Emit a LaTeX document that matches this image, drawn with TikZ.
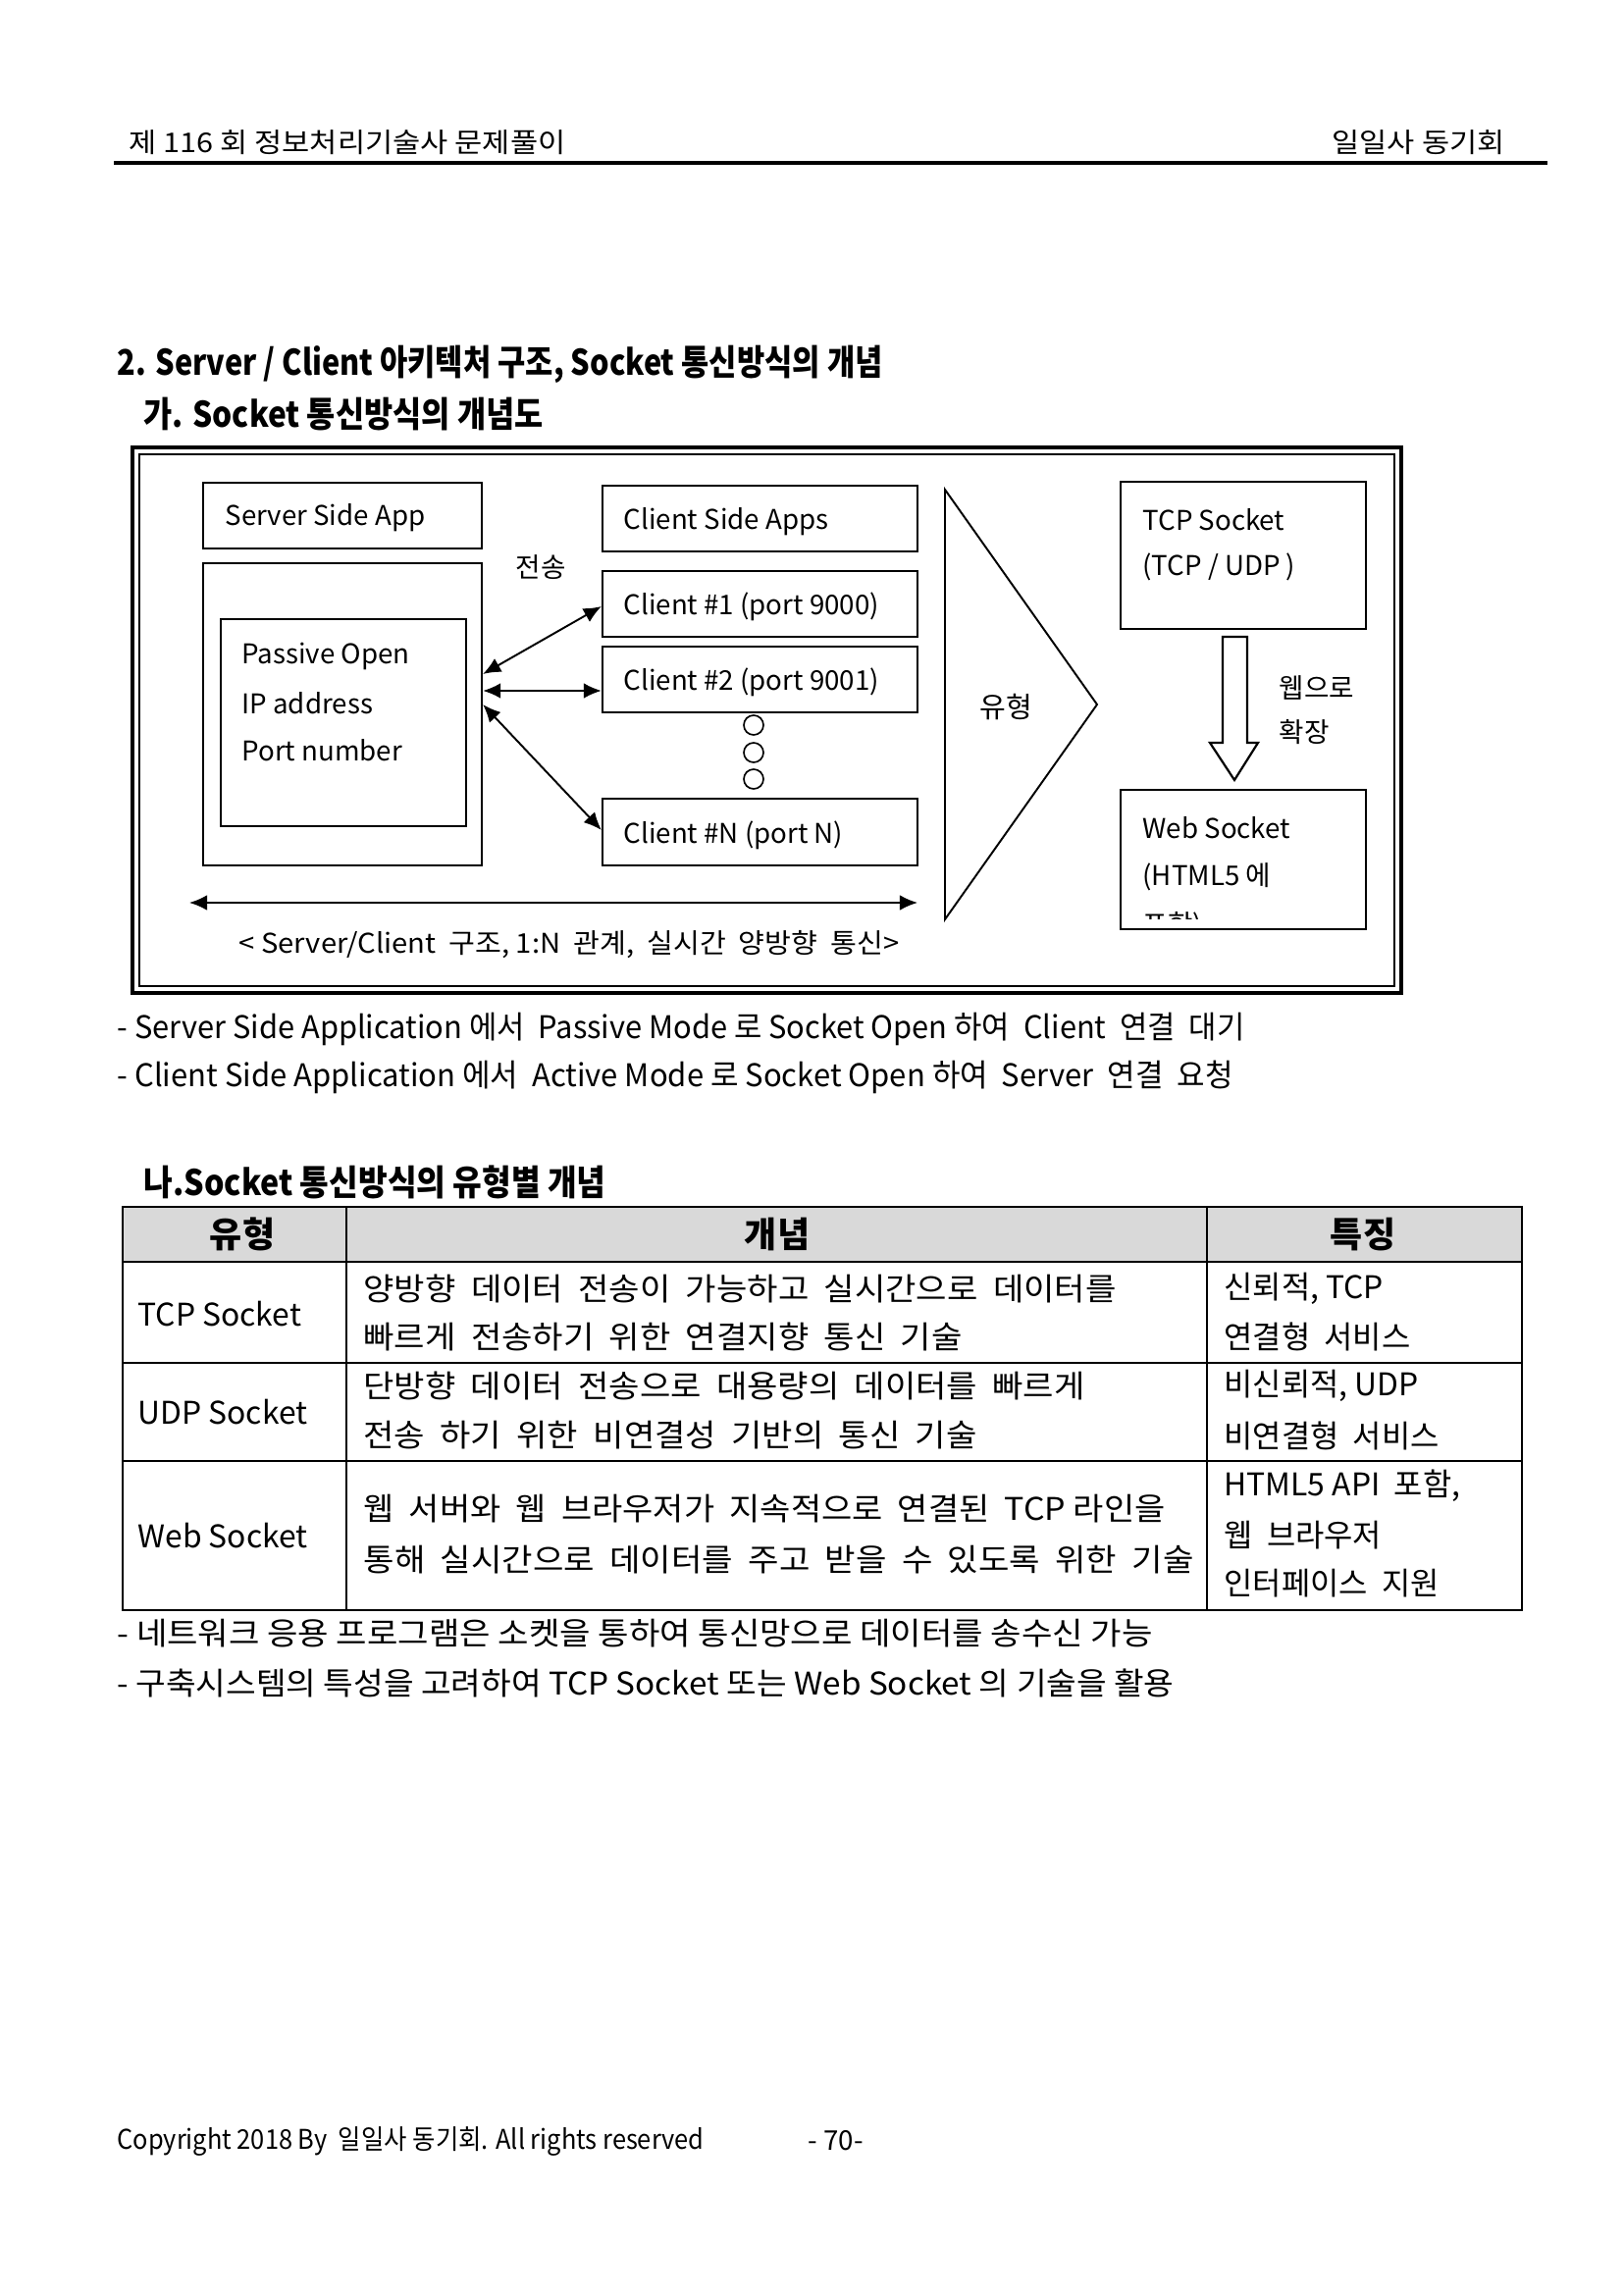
\documentclass[tikz,border=0pt]{standalone}
\usepackage{fontspec}
\setmainfont{Noto Sans CJK KR}
\usepackage{graphicx}
\usetikzlibrary{arrows.meta, positioning, calc}
\newlength\px
\setlength\px{0.127mm}
\newcommand\fitw[2]{\resizebox{#1\px}{\height}{#2}}
\tikzset{
	txt/.style={anchor=west, inner sep=0pt, font=\fontsize{11.5}{13}\selectfont},
	head/.style={txt, font=\fontsize{13}{15}\selectfont\bfseries},
	dtxt/.style={txt, font=\fontsize{10}{12}\selectfont},
	box/.style={draw, line width=0.8pt, inner sep=0pt},
	dot/.style={circle, draw, line width=0.6pt, minimum size=20\px, inner sep=0pt},
	biarrow/.style={{Latex[length=2.3mm, width=2mm]}-{Latex[length=2.3mm, width=2mm]}, line width=0.7pt}
}
\begin{document}
\begin{tikzpicture}[x=0.127mm, y=-0.127mm]
	\fill[white] (0,0) rectangle (1654,2339);
	\useasboundingbox (0,0) rectangle (1654,2339);
	% page header
	\node[txt, font=\fontsize{10}{12}\selectfont] (hl) at (131,145) {\fitw{445}{제 116 회 정보처리기술사 문제풀이}};
	\node[txt, font=\fontsize{10}{12}\selectfont] (hr) at (1357,145) {\fitw{176}{일일사 동기회}};
	\draw[line width=1.2pt] (116,166) -- (1577,166);
	\node[head] (h2) at (119,371) {\fitw{780}{2. Server / Client 아키텍처 구조, Socket 통신방식의 개념}};
	\node[head] (h3) at (146,422) {\fitw{407}{가. Socket 통신방식의 개념도}};
	% diagram frame
	\draw[line width=1.4pt] (135,456) rectangle (1428,1012);
	\draw[line width=0.8pt] (142,463) rectangle (1421,1005);
	% server side
	\node[box, minimum width=284\px, minimum height=67\px] (ssa) at (349,525.5) {};
	\node[dtxt] at (229,528) {Server Side App};
	\node[box, minimum width=284\px, minimum height=308\px] (srv) at (349,728) {};
	\node[box, minimum width=250\px, minimum height=211\px] (inr) at (350,736.5) {};
	\node[dtxt] (po) at (246,669) {Passive Open};
	\node[dtxt] (ip) at (246,717) {IP address};
	\node[dtxt] (pn) at (246,765) {Port number};
	% client side
	\node[box, minimum width=321\px, minimum height=67\px] (csa) at (774.5,528.5) {};
	\node[dtxt] at (635,532) {Client Side Apps};
	\node[box, minimum width=321\px, minimum height=67\px] (c1) at (774.5,615.5) {};
	\node[dtxt] at (635,618) {Client \#1 (port 9000)};
	\node[box, minimum width=321\px, minimum height=67\px] (c2) at (774.5,692.5) {};
	\node[dtxt] at (635,695) {Client \#2 (port 9001)};
	\node[box, minimum width=321\px, minimum height=68\px] (cN) at (774.5,848) {};
	\node[dtxt] at (635,851) {Client \#N (port N)};
	\node[dot] (d1) at (768,739) {};
	\node[dot] (d2) at (768,767) {};
	\node[dot] (d3) at (768,794) {};
	\node[dtxt, anchor=center] (tx) at (551,578) {전송};
	\draw[biarrow] (srv.east |- 0,687) -- (c1.west |- 0,618);
	\draw[biarrow] (srv.east |- 0,704) -- (c2.west |- 0,704);
	\draw[biarrow] (srv.east |- 0,718) -- (cN.west |- 0,846);
	\coordinate (bl) at (193,920);
	\coordinate (br) at (935,920);
	\draw[biarrow] (bl) -- (br);
	\node[dtxt, anchor=center] (cap) at (580,963) {\fitw{673}{< Server/Client \ 구조, 1:N \ 관계, \ 실시간 \ 양방향 \ 통신>}};
	% socket types
	\draw[line width=0.7pt] (963,499) -- (1118,718) -- (963,937) -- cycle;
	\node[txt, anchor=center, font=\fontsize{10.5}{12}\selectfont] (ty) at (1025,721) {유형};
	\node[box, minimum width=250\px, minimum height=150\px] (tcp) at (1267,566) {};
	\node[dtxt] at (1164,530) {TCP Socket};
	\node[dtxt] at (1164,578) {(TCP / UDP )};
	\node[box, minimum width=250\px, minimum height=142\px] (web) at (1267,876) {};
	\node[dtxt] at (1164,844) {Web Socket};
	\node[dtxt] at (1164,894) {(HTML5 에};
	\begin{scope}
		\clip (1142,805) rectangle (1392,936);
		\node[dtxt] at (1164,944) {포함)};
	\end{scope}
	\draw[line width=0.8pt, fill=white] (1246,649) -- (1271,649) -- (1271,757) -- (1282,757)
		-- (1258,795) -- (1233,757) -- (1246,757) -- cycle;
	\node[dtxt] (ext1) at (1303,701) {웹으로};
	\node[dtxt] (ext2) at (1303,746) {확장};
	% notes
	\node[txt] (n1) at (119,1049) {\fitw{1149}{- Server Side Application 에서 \ Passive Mode 로 Socket Open 하여 \ Client \ 연결 \ 대기}};
	\node[txt] (n2) at (119,1098) {\fitw{1137}{- Client Side Application 에서 \ Active Mode 로 Socket Open 하여 \ Server \ 연결 \ 요청}};
	% table
	\node[head] (h4) at (146,1205) {\fitw{471}{나.Socket 통신방식의 유형별 개념}};
	\fill[gray!30] (125,1230) rectangle (1551,1286);
	\foreach \y in {1286,1389,1489}
		\draw[line width=0.6pt] (125,\y) -- (1551,\y);
	\foreach \x in {353,1230}
		\draw[line width=0.6pt] (\x,1230) -- (\x,1641);
	\draw[line width=1pt] (125,1230) rectangle (1551,1641);
	\node[head, anchor=center] at (247,1258) {유형};
	\node[head, anchor=center] at (792,1258) {개념};
	\node[head, anchor=center] at (1389,1258) {특징};
	\node[txt] at (140,1339) {TCP Socket};
	\node[txt] at (370,1313) {\fitw{767}{양방향 \ 데이터 \ 전송이 \ 가능하고 \ 실시간으로 \ 데이터를}};
	\node[txt] at (370,1362) {\fitw{610}{빠르게 \ 전송하기 \ 위한 \ 연결지향 \ 통신 \ 기술}};
	\node[txt] at (1247,1313) {신뢰적, TCP};
	\node[txt] at (1247,1362) {연결형 \ 서비스};
	\node[txt] at (140,1439) {UDP Socket};
	\node[txt] at (370,1412) {\fitw{735}{단방향 \ 데이터 \ 전송으로 \ 대용량의 \ 데이터를 \ 빠르게}};
	\node[txt] at (370,1463) {\fitw{625}{전송 \ 하기 \ 위한 \ 비연결성 \ 기반의 \ 통신 \ 기술}};
	\node[txt] at (1247,1412) {비신뢰적, UDP};
	\node[txt] at (1247,1463) {비연결형 \ 서비스};
	\node[txt] at (140,1565) {Web Socket};
	\node[txt] at (370,1538) {\fitw{817}{웹 \ 서버와 \ 웹 \ 브라우저가 \ 지속적으로 \ 연결된 \ TCP 라인을}};
	\node[txt] at (370,1590) {\fitw{846}{통해 \ 실시간으로 \ 데이터를 \ 주고 \ 받을 \ 수 \ 있도록 \ 위한 \ 기술}};
	\node[txt] at (1247,1514) {HTML5 API \ 포함,};
	\node[txt] at (1247,1565) {웹 \ 브라우저};
	\node[txt] at (1247,1614) {인터페이스 \ 지원};
	\node[txt] (b1) at (119,1665) {\fitw{1055}{- 네트워크 응용 프로그램은 소켓을 통하여 통신망으로 데이터를 송수신 가능}};
	\node[txt] (b2) at (119,1715) {\fitw{1077}{- 구축시스템의 특성을 고려하여 TCP Socket 또는 Web Socket 의 기술을 활용}};
	% footer
	\node[txt, font=\fontsize{10}{12}\selectfont] (ft) at (119,2182) {\fitw{598}{Copyright 2018 By \ 일일사 동기회. All rights reserved}};
	\node[txt, font=\fontsize{10}{12}\selectfont] (pg) at (823,2182) {- 70-};
\end{tikzpicture}
\end{document}
